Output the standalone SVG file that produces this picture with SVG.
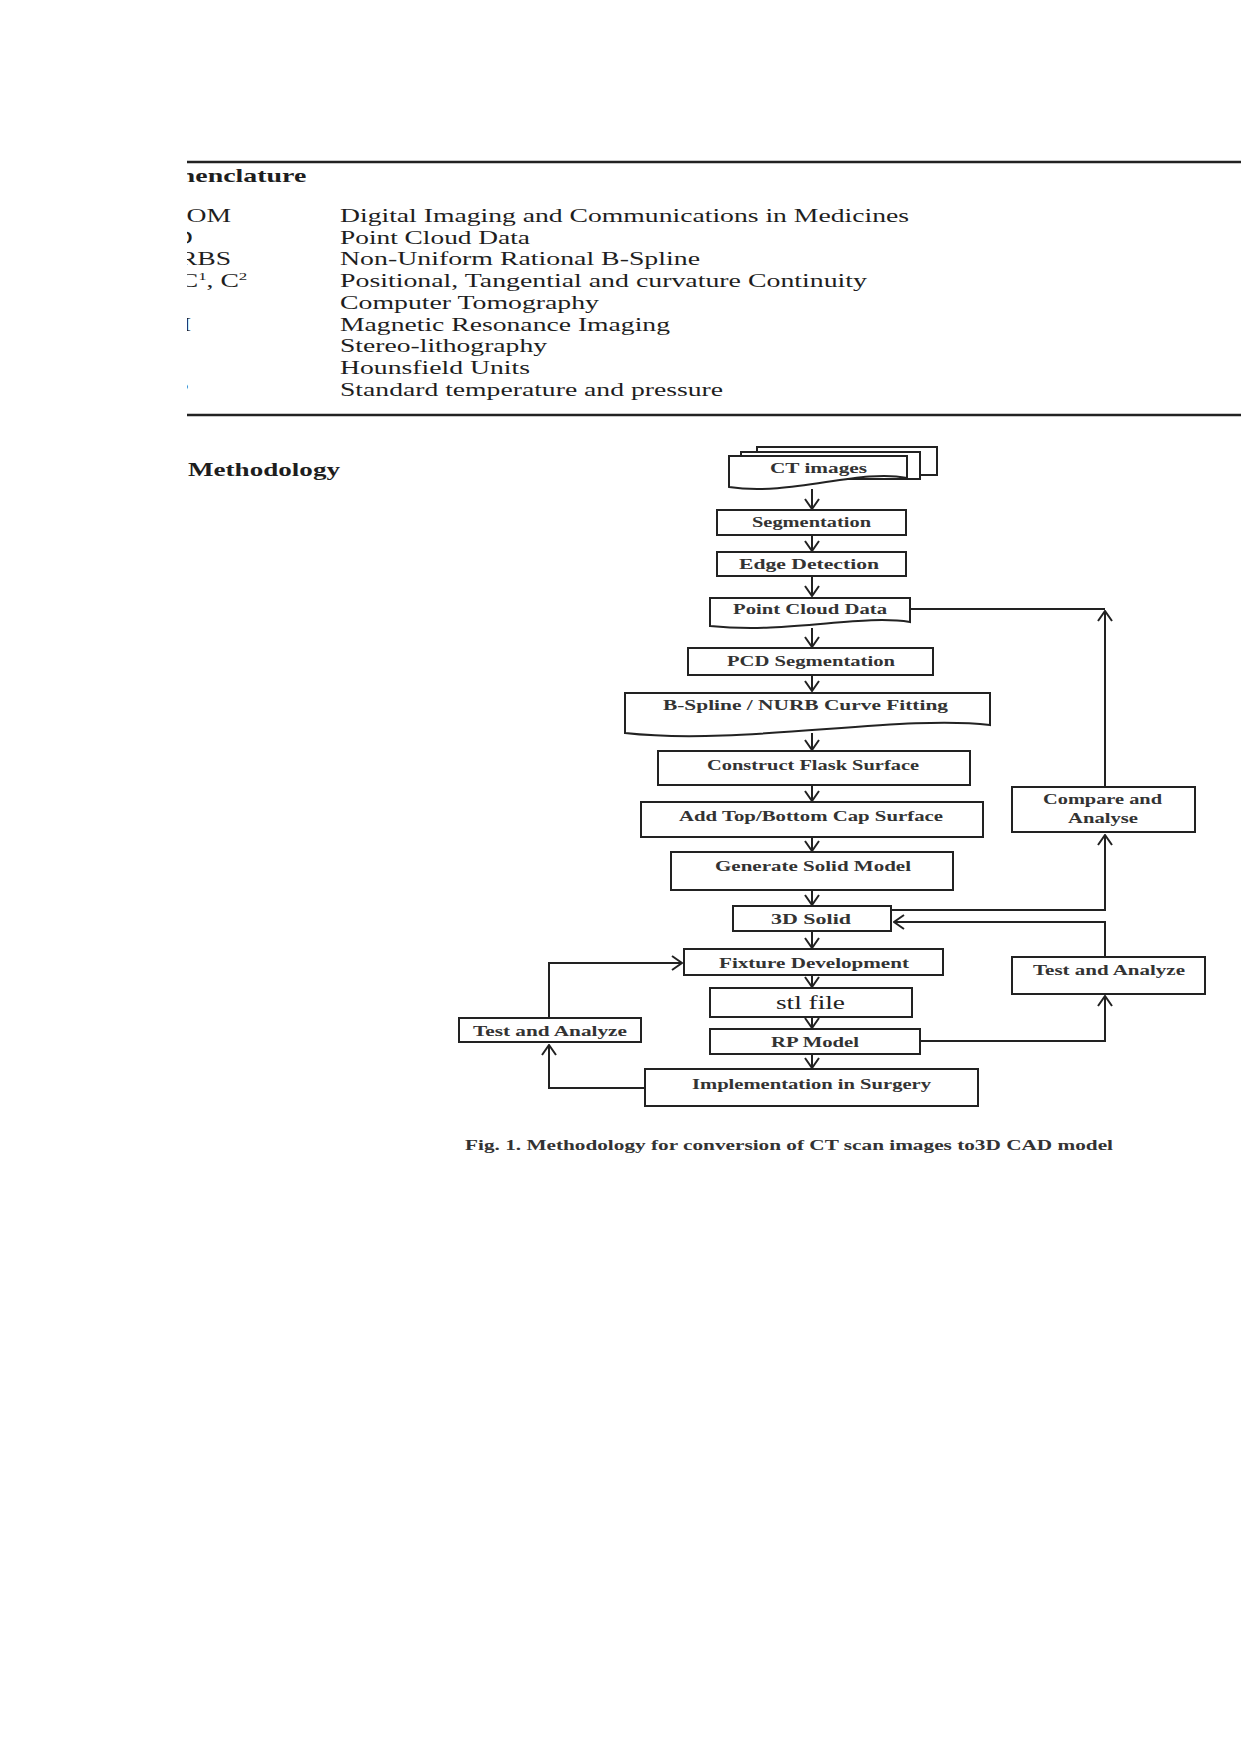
<svg xmlns="http://www.w3.org/2000/svg" width="1241" height="1754" viewBox="0 0 1241 1754">
<style>
.nom{font-family:"Liberation Serif","Times New Roman",serif;font-size:18px;fill:#1e1e1e}
.hd{font-family:"Liberation Serif","Times New Roman",serif;font-size:18px;font-weight:bold;fill:#1e1e1e}
.lbl{font-family:"Liberation Serif","Times New Roman",serif;font-size:15px;font-weight:bold;fill:#333}
.box{fill:#fff;stroke:#222;stroke-width:2}
.con{fill:none;stroke:#222;stroke-width:2}
.rule{stroke:#222;stroke-width:2.5}
</style>
<defs>
<clipPath id="pageclip"><rect x="187" y="0" width="1054" height="1754"/></clipPath>
<marker id="ah" viewBox="-12 -9 13 18" refX="0" refY="0" markerWidth="13" markerHeight="18" markerUnits="userSpaceOnUse" orient="auto">
<path d="M-10,-7 L0,0 L-10,7" fill="none" stroke="#222" stroke-width="2"/>
</marker>
</defs>
<rect width="1241" height="1754" fill="#fff"/>

<g id="nomenclature">
<line class="rule" x1="187" y1="162" x2="1241" y2="162"/>
<line class="rule" x1="187" y1="415" x2="1241" y2="415"/>
<g clip-path="url(#pageclip)">
<text class="hd" transform="translate(138,182) scale(1.55,1)">Nomenclature</text>
<text class="nom" transform="translate(139,222) scale(1.536,1)">DICOM</text>
<text class="nom" transform="translate(139,243.7) scale(1.536,1)">PCD</text>
<text class="nom" transform="translate(139,265.4) scale(1.536,1)">NURBS</text>
<text class="nom" transform="translate(139,287.1) scale(1.536,1)">C<tspan font-size="11" dy="-7">0</tspan><tspan dy="7">, C</tspan><tspan font-size="11" dy="-7">1</tspan><tspan dy="7">, C</tspan><tspan font-size="11" dy="-7">2</tspan></text>
<text class="nom" transform="translate(139,330.5) scale(1.536,1)">MRI</text>
<text class="nom" transform="translate(141,395.6) scale(1.536,1)">STP</text>
</g>
<text class="nom" x="340" y="222" textLength="569" lengthAdjust="spacingAndGlyphs">Digital Imaging and Communications in Medicines</text>
<text class="nom" x="340" y="243.7" textLength="190" lengthAdjust="spacingAndGlyphs">Point Cloud Data</text>
<text class="nom" x="340" y="265.4" textLength="360" lengthAdjust="spacingAndGlyphs">Non-Uniform Rational B-Spline</text>
<text class="nom" x="340" y="287.1" textLength="527" lengthAdjust="spacingAndGlyphs">Positional, Tangential and curvature Continuity</text>
<text class="nom" x="340" y="308.8" textLength="259" lengthAdjust="spacingAndGlyphs">Computer Tomography</text>
<text class="nom" x="340" y="330.5" textLength="330" lengthAdjust="spacingAndGlyphs">Magnetic Resonance Imaging</text>
<text class="nom" x="340" y="352.2" textLength="207" lengthAdjust="spacingAndGlyphs">Stereo-lithography</text>
<text class="nom" x="340" y="373.9" textLength="190" lengthAdjust="spacingAndGlyphs">Hounsfield Units</text>
<text class="nom" x="340" y="395.6" textLength="383" lengthAdjust="spacingAndGlyphs">Standard temperature and pressure</text>
</g>

<text class="hd" x="188" y="476" font-size="17" textLength="152" lengthAdjust="spacingAndGlyphs">Methodology</text>

<g id="connectors">
<line class="con" x1="812" y1="489" x2="812" y2="509" marker-end="url(#ah)"/>
<line class="con" x1="812" y1="535" x2="812" y2="551" marker-end="url(#ah)"/>
<line class="con" x1="812" y1="576" x2="812" y2="596" marker-end="url(#ah)"/>
<line class="con" x1="812" y1="628" x2="812" y2="647" marker-end="url(#ah)"/>
<line class="con" x1="812" y1="675" x2="812" y2="691" marker-end="url(#ah)"/>
<line class="con" x1="812" y1="733" x2="812" y2="750" marker-end="url(#ah)"/>
<line class="con" x1="812" y1="785" x2="812" y2="801" marker-end="url(#ah)"/>
<line class="con" x1="812" y1="837" x2="812" y2="851" marker-end="url(#ah)"/>
<line class="con" x1="812" y1="890" x2="812" y2="905" marker-end="url(#ah)"/>
<line class="con" x1="812" y1="931" x2="812" y2="948" marker-end="url(#ah)"/>
<line class="con" x1="812" y1="975" x2="812" y2="987" marker-end="url(#ah)"/>
<line class="con" x1="812" y1="1017" x2="812" y2="1028" marker-end="url(#ah)"/>
<line class="con" x1="812" y1="1054" x2="812" y2="1068" marker-end="url(#ah)"/>
<polyline class="con" points="910,609 1105,609"/>
<line class="con" x1="1105" y1="787" x2="1105" y2="611" marker-end="url(#ah)"/>
<polyline class="con" points="891,910 1105,910 1105,835" marker-end="url(#ah)"/>
<polyline class="con" points="1105,957 1105,922 894,922" marker-end="url(#ah)"/>
<polyline class="con" points="920,1041 1105,1041 1105,996" marker-end="url(#ah)"/>
<polyline class="con" points="645,1088 549,1088 549,1045" marker-end="url(#ah)"/>
<polyline class="con" points="549,1018 549,963 682,963" marker-end="url(#ah)"/>
</g>

<g id="n-ct">
<rect class="box" x="757" y="447" width="180" height="28"/>
<rect class="box" x="741" y="452" width="179" height="27"/>
<path class="box" d="M729,456 H907 V478 C860,468 790,497 729,487 Z"/>
<text class="lbl" x="770" y="473" textLength="97" lengthAdjust="spacingAndGlyphs">CT images</text>
</g>
<g id="n-seg">
<rect class="box" x="717" y="510" width="189" height="25"/>
<text class="lbl" x="752" y="527" textLength="119" lengthAdjust="spacingAndGlyphs">Segmentation</text>
</g>
<g id="n-edge">
<rect class="box" x="717" y="552" width="189" height="24"/>
<text class="lbl" x="739" y="569" textLength="140" lengthAdjust="spacingAndGlyphs">Edge Detection</text>
</g>
<g id="n-pcd">
<path class="box" d="M710,598 H910 V622 C860,614 790,634 710,626 Z"/>
<text class="lbl" x="733" y="614" textLength="154" lengthAdjust="spacingAndGlyphs">Point Cloud Data</text>
</g>
<g id="n-pcdseg">
<rect class="box" x="688" y="648" width="245" height="27"/>
<text class="lbl" x="727" y="666" textLength="168" lengthAdjust="spacingAndGlyphs">PCD Segmentation</text>
</g>
<g id="n-bspline">
<path class="box" d="M625,693 H990 V725 C900,714 740,746 625,733 Z"/>
<text class="lbl" x="663" y="710" textLength="285" lengthAdjust="spacingAndGlyphs">B-Spline / NURB Curve Fitting</text>
</g>
<g id="n-flask">
<rect class="box" x="658" y="751" width="312" height="34"/>
<text class="lbl" x="707" y="770" textLength="212" lengthAdjust="spacingAndGlyphs">Construct Flask Surface</text>
</g>
<g id="n-cap">
<rect class="box" x="641" y="802" width="342" height="35"/>
<text class="lbl" x="679" y="821" textLength="264" lengthAdjust="spacingAndGlyphs">Add Top/Bottom Cap Surface</text>
</g>
<g id="n-gen">
<rect class="box" x="671" y="852" width="282" height="38"/>
<text class="lbl" x="715" y="871" textLength="196" lengthAdjust="spacingAndGlyphs">Generate Solid Model</text>
</g>
<g id="n-3d">
<rect class="box" x="733" y="906" width="158" height="25"/>
<text class="lbl" x="771" y="924" textLength="80" lengthAdjust="spacingAndGlyphs">3D Solid</text>
</g>
<g id="n-fixture">
<rect class="box" x="684" y="949" width="259" height="26"/>
<text class="lbl" x="719" y="968" textLength="190" lengthAdjust="spacingAndGlyphs">Fixture Development</text>
</g>
<g id="n-stl">
<rect class="box" x="710" y="988" width="202" height="29"/>
<text x="776" y="1009" font-family="Liberation Serif, Times New Roman, serif" font-size="19" fill="#222" textLength="69" lengthAdjust="spacingAndGlyphs">stl file</text>
</g>
<g id="n-rp">
<rect class="box" x="710" y="1029" width="210" height="25"/>
<text class="lbl" x="771" y="1047" textLength="88" lengthAdjust="spacingAndGlyphs">RP Model</text>
</g>
<g id="n-impl">
<rect class="box" x="645" y="1069" width="333" height="37"/>
<text class="lbl" x="692" y="1089" textLength="239" lengthAdjust="spacingAndGlyphs">Implementation in Surgery</text>
</g>
<g id="n-test-left">
<rect class="box" x="459" y="1018" width="182" height="24"/>
<text class="lbl" x="473" y="1036" textLength="154" lengthAdjust="spacingAndGlyphs">Test and Analyze</text>
</g>
<g id="n-compare">
<rect class="box" x="1012" y="787" width="183" height="45"/>
<text class="lbl" x="1043" y="804" textLength="119" lengthAdjust="spacingAndGlyphs">Compare and</text>
<text class="lbl" x="1068" y="823" textLength="70" lengthAdjust="spacingAndGlyphs">Analyse</text>
</g>
<g id="n-test-right">
<rect class="box" x="1012" y="957" width="193" height="37"/>
<text class="lbl" x="1033" y="975" textLength="152" lengthAdjust="spacingAndGlyphs">Test and Analyze</text>
</g>

<text class="lbl" x="465" y="1150" font-size="14" textLength="648" lengthAdjust="spacingAndGlyphs">Fig. 1. Methodology for conversion of CT scan images to3D CAD model</text>
</svg>
